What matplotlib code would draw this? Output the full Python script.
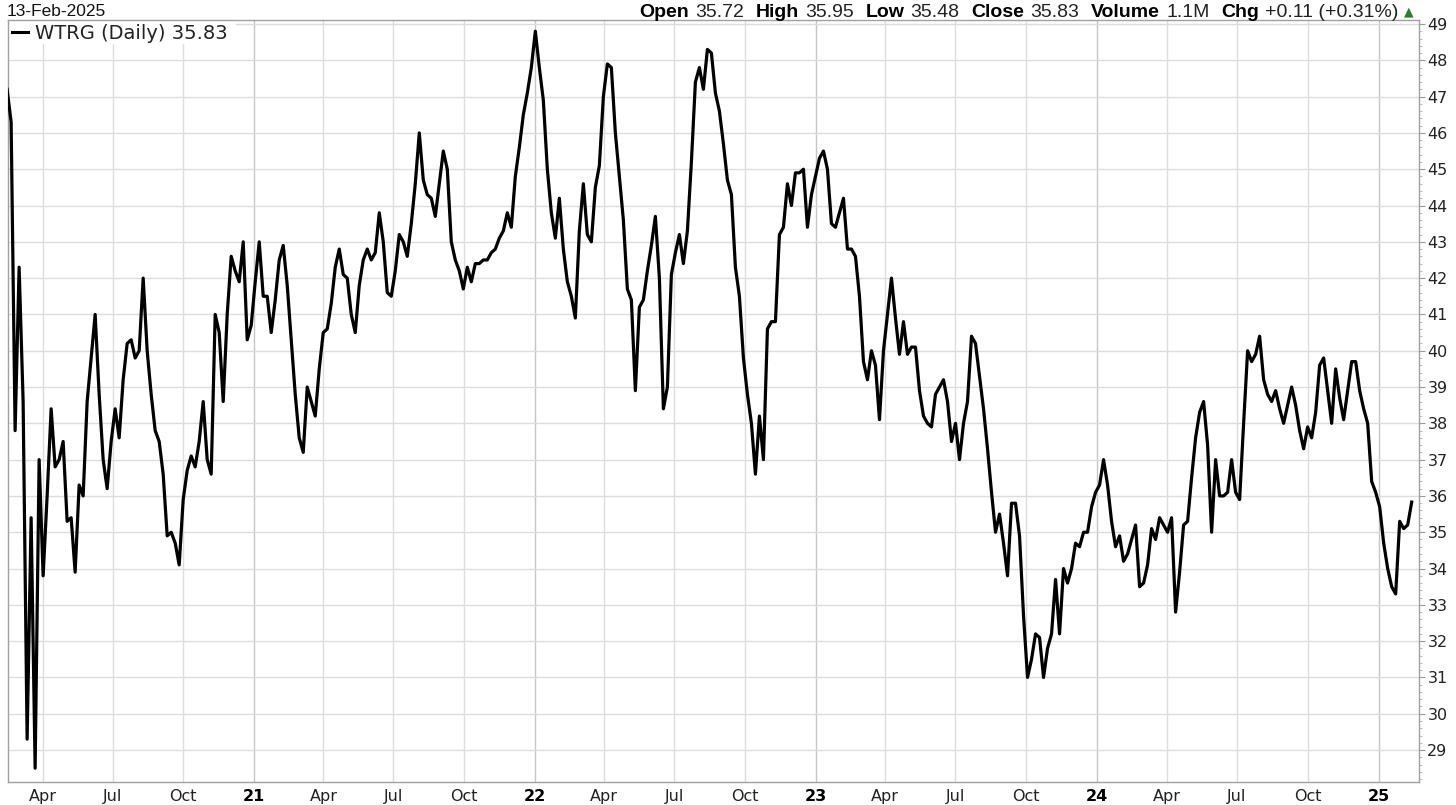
import numpy as np
import pandas as pd
import matplotlib
matplotlib.use("Agg")
import matplotlib.pyplot as plt
import matplotlib.dates as mdates
from matplotlib.ticker import MultipleLocator
from matplotlib.lines import Line2D
from matplotlib.patches import Rectangle

# ---------------- data ----------------
ticker = "WTRG"
period = "Daily"
chart_date = "13-Feb-2025"
first_date = "2020-02-15"
last_date = "2025-02-13"

# closing prices, roughly every 3.5 trading days, left to right
close_feb20_jan21 = [47.2, 46.3, 37.8, 42.3, 38.6, 29.3, 35.4, 28.5, 37.0, 33.8,
                     36.0, 38.4, 36.8, 37.0, 37.5, 35.3, 35.4, 33.9, 36.3, 36.0,
                     38.6, 39.8, 41.0, 38.8, 37.0, 36.2, 37.5, 38.4, 37.6, 39.2,
                     40.2, 40.3, 39.8, 40.0, 42.0, 40.0, 38.8, 37.8, 37.5, 36.6,
                     34.9, 35.0, 34.7, 34.1, 35.9, 36.7, 37.1, 36.8, 37.5, 38.6,
                     37.0, 36.6, 41.0, 40.5, 38.6, 41.0, 42.6, 42.2, 41.9, 43.0]
close_jan21_dec21 = [40.3, 40.7, 41.9, 43.0, 41.5, 41.5, 40.5, 41.4, 42.5, 42.9,
                     41.8, 40.3, 38.8, 37.6, 37.2, 39.0, 38.6, 38.2, 39.5, 40.5,
                     40.6, 41.3, 42.3, 42.8, 42.1, 42.0, 41.0, 40.5, 41.8, 42.5,
                     42.8, 42.5, 42.7, 43.8, 43.0, 41.6, 41.5, 42.2, 43.2, 43.0,
                     42.6, 43.5, 44.6, 46.0, 44.7, 44.3, 44.2, 43.7, 44.6, 45.5,
                     45.0, 43.0, 42.5, 42.2, 41.7, 42.3, 41.9, 42.4, 42.4, 42.5]
close_dec21_sep22 = [42.5, 42.7, 42.8, 43.1, 43.3, 43.8, 43.4, 44.8, 45.6, 46.5,
                     47.1, 47.8, 48.8, 47.8, 46.9, 45.0, 43.8, 43.1, 44.2, 42.8,
                     41.9, 41.5, 40.9, 43.3, 44.6, 43.2, 43.0, 44.5, 45.1, 47.0,
                     47.9, 47.8, 46.0, 44.8, 43.6, 41.7, 41.4, 38.9, 41.2, 41.4,
                     42.2, 42.9, 43.7, 42.0, 38.4, 39.0, 42.1, 42.7, 43.2, 42.4,
                     43.3, 45.2, 47.4, 47.8, 47.2, 48.3, 48.2, 47.1, 46.6, 45.7,
                     44.7]
close_sep22_jul23 = [44.3, 42.3, 41.5, 39.8, 38.8, 38.0, 36.6, 38.2, 37.0, 40.6,
                     40.8, 40.8, 43.2, 43.4, 44.6, 44.0, 44.9, 44.9, 45.0, 43.4,
                     44.3, 44.8, 45.3, 45.5, 45.0, 43.5, 43.4, 43.8, 44.2, 42.8,
                     42.8, 42.6, 41.5, 39.7, 39.2, 40.0, 39.6, 38.1, 40.0, 41.0,
                     42.0, 40.9, 39.9, 40.8, 39.9, 40.1, 40.1, 38.9, 38.2, 38.0,
                     37.9, 38.8, 39.0, 39.2, 38.6, 37.5, 38.0]
close_jul23_may24 = [37.0, 38.0, 38.6, 40.4, 40.2, 39.3, 38.4, 37.3, 36.1, 35.0,
                     35.5, 34.7, 33.8, 35.8, 35.8, 34.9, 32.7, 31.0, 31.5, 32.2,
                     32.1, 31.0, 31.8, 32.2, 33.7, 32.2, 34.0, 33.6, 34.0, 34.7,
                     34.6, 35.0, 35.0, 35.7, 36.1, 36.3, 37.0, 36.3, 35.3, 34.6,
                     34.9, 34.2, 34.4, 34.8, 35.2, 33.5, 33.6, 34.1, 35.1, 34.8,
                     35.4, 35.2, 35.0, 35.4, 32.8, 33.9, 35.2, 35.3, 36.5, 37.6]
close_may24_feb25 = [38.3, 38.6, 37.4, 35.0, 37.0, 36.0, 36.0, 36.1, 37.0, 36.1,
                     35.9, 38.0, 40.0, 39.7, 39.9, 40.4, 39.2, 38.8, 38.6, 38.9,
                     38.4, 38.0, 38.5, 39.0, 38.5, 37.8, 37.3, 37.9, 37.6, 38.3,
                     39.6, 39.8, 38.9, 38.0, 39.5, 38.7, 38.1, 38.9, 39.7, 39.7,
                     38.9, 38.4, 38.0, 36.4, 36.1, 35.7, 34.7, 34.0, 33.5, 33.3,
                     35.3, 35.1, 35.2, 35.83]

close_values = (close_feb20_jan21 + close_jan21_dec21 + close_dec21_sep22 +
                close_sep22_jul23 + close_jul23_may24 + close_may24_feb25)

quarter_starts = ["2020-04-01", "2020-07-01", "2020-10-01", "2021-01-01",
                  "2021-04-01", "2021-07-01", "2021-10-01", "2022-01-01",
                  "2022-04-01", "2022-07-01", "2022-10-01", "2023-01-01",
                  "2023-04-01", "2023-07-01", "2023-10-01", "2024-01-01",
                  "2024-04-01", "2024-07-01", "2024-10-01", "2025-01-01"]
quarter_labels = ["Apr", "Jul", "Oct", "21", "Apr", "Jul", "Oct", "22",
                  "Apr", "Jul", "Oct", "23", "Apr", "Jul", "Oct", "24",
                  "Apr", "Jul", "Oct", "25"]
price_ticks = list(range(29, 50))

header_labels = ["Open", "High", "Low", "Close", "Volume", "Chg"]
header_values = ["35.72", "35.95", "35.48", "35.83", "1.1M", "+0.11 (+0.31%)"]

# ---------------- figure ----------------
W, H = 1456, 805
fig = plt.figure(figsize=(W / 100, H / 100), dpi=100)
fig.patch.set_facecolor("white")


def fx(px):
    return px / W


def fy(py):
    return 1 - py / H


ax = fig.add_axes([fx(7.5), fy(782), (1419 - 7.5) / W, (782 - 20) / H])

dates = pd.date_range(first_date, last_date, periods=len(close_values))
ax.plot(dates, close_values, color="black", lw=2.3, solid_joinstyle="round",
        zorder=3)

ax.set_xlim(pd.Timestamp("2020-02-15 12:00"), pd.Timestamp("2025-02-22 12:00"))
ax.set_ylim(28.12, 49.11)

# y axis on right
ax.yaxis.tick_right()
ax.set_yticks(price_ticks)
ax.set_yticklabels([str(v) for v in price_ticks])
ax.yaxis.set_minor_locator(MultipleLocator(0.2))
ax.tick_params(axis="y", which="major", length=4, width=0.8, color="#999999",
               pad=2, labelsize=11.5, labelcolor="#222222")
ax.tick_params(axis="y", which="minor", length=2, width=0.6, color="#b0b0b0")

# x axis
ax.set_xticks(pd.to_datetime(quarter_starts))
ax.set_xticklabels(quarter_labels)
ax.tick_params(axis="x", length=0, pad=5, labelsize=11.5, labelcolor="#222222")
for lbl in ax.get_xticklabels():
    if lbl.get_text().isdigit():
        lbl.set_fontweight("bold")
        lbl.set_color("black")

ax.set_axisbelow(True)
ax.grid(True, which="major", color="#dcdcdc", lw=1.0)
for gl, lab in zip(ax.get_xgridlines(), quarter_labels):
    if lab.isdigit():
        gl.set_color("#c6c6c6")

for sp in ax.spines.values():
    sp.set_color("#a0a0a0")
    sp.set_linewidth(1.0)

# legend (white box hides grid behind it)
ax.add_patch(Rectangle((0, 1), 0.162, -0.031, transform=ax.transAxes,
                       facecolor="white", edgecolor="none", zorder=1))
fig.add_artist(Line2D([fx(12), fx(28)], [fy(32.5), fy(32.5)], color="black",
                      lw=2.2, transform=fig.transFigure))
fig.text(fx(35), fy(39.3), f"{ticker} ({period}) {close_values[-1]:.2f}",
         fontsize=14, family="DejaVu Sans", va="baseline", ha="left",
         color="#222222")

# header
fig.text(fx(7), fy(16), chart_date, family="Liberation Sans", fontsize=12.5,
         va="baseline", ha="left", color="#111111")

renderer = fig.canvas.get_renderer()
x = 639
for lab, val in zip(header_labels, header_values):
    t = fig.text(fx(x), fy(16.7), lab, family="Liberation Sans",
                 fontweight="bold", fontsize=14, va="baseline", ha="left",
                 color="black")
    x += t.get_window_extent(renderer).width + 6
    t2 = fig.text(fx(x), fy(16.7), val, family="Liberation Sans", fontsize=14,
                  va="baseline", ha="left", color="#222222")
    x += t2.get_window_extent(renderer).width + 12
fig.text(fx(x - 7), fy(15), "\u25B2", family="DejaVu Sans", fontsize=9,
         va="baseline", ha="left", color="#2e7d32")

fig.savefig("out.png", dpi=100, facecolor="white")
